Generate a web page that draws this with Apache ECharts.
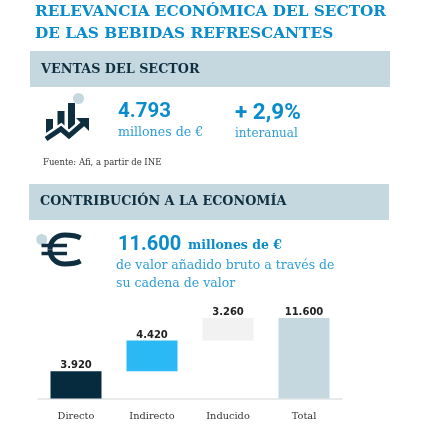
<!DOCTYPE html>
<html><head><meta charset="utf-8">
<style>html,body{margin:0;padding:0;background:#fff}#c{width:435px;height:435px}</style>
<script src="https://cdn.jsdelivr.net/npm/echarts@6/dist/echarts.min.js"></script>
</head><body><div id="c"></div>
<script>
const categories = ['Directo', 'Indirecto', 'Inducido', 'Total'];
const values = [3920, 4420, 3260, 11600];
const offsets = [0, 3920, 8340, 0];
const valueLabels = ['3.920', '4.420', '3.260', '11.600'];
const barColors = ['#062b3f', '#2bb9f5', '#f2f2f2', '#c5d8e0'];

const SERIF = '"DejaVu Serif"';
const blue = '#0a8bcb', lightBlue = '#2f9ed6', dark = '#0f2f40';
function txt(x, y, text, size, color, weight, family) {
  return {type:'text', x, y, style:{text, fontSize:size, fill:color, fontWeight:weight||'normal',
    fontFamily:family||SERIF, textVerticalAlign:'middle', textAlign:'left'}, silent:true};
}
function rect(x,y,width,height,fill){return {type:'rect',shape:{x,y,width,height},style:{fill},silent:true};}
function poly(points, fill) { return {type:'polygon', shape:{points}, style:{fill}, silent:true}; }
function pline(points,w,c){return {type:'polyline',shape:{points},style:{stroke:c,lineWidth:w,fill:'none'},silent:true};}
function line(x1,y1,x2,y2,w,c){return {type:'line',shape:{x1,y1,x2,y2},style:{stroke:c,lineWidth:w},silent:true};}
function curve(x1,y1,cpx1,cpy1,cpx2,cpy2,x2,y2){
  return {type:'bezierCurve',shape:{x1,y1,cpx1,cpy1,cpx2,cpy2,x2,y2},style:{stroke:dark,fill:'none',lineWidth:5},silent:true};
}
const arrowPts = [[46,139],[61,129],[69,136],[85,122]];

const chart = echarts.init(document.getElementById('c'), null, {renderer:'canvas'});
chart.setOption({
  animation:false,
  backgroundColor:'#fff',
  grid:{left:38, width:304, top:318, height:80.5},
  xAxis:{type:'category', data:categories,
    axisLine:{lineStyle:{color:'#e2e4e5', width:1.5}}, axisTick:{show:false},
    axisLabel:{color:'#333', fontFamily:SERIF, fontSize:9.8, margin:12.5}},
  yAxis:{type:'value', min:0, max:11600, show:false, splitLine:{show:false}},
  series:[
    {type:'bar', stack:'w', data:offsets, barWidth:51, silent:true, itemStyle:{color:'transparent'}},
    {type:'bar', stack:'w', barWidth:51, silent:true,
      data:values.map((v,i)=>({value:v, itemStyle:{color:barColors[i]},
        label:{show:true, position:'top', distance:0.5, formatter:valueLabels[i], color:'#222',
          fontFamily:'"DejaVu Sans"', fontWeight:'bold', fontSize:10}}))}
  ],
  graphic:[
    txt(35,12.5,'RELEVANCIA ECONÓMICA DEL SECTOR',15.3,blue,'bold'),
    txt(35,34,'DE LAS BEBIDAS REFRESCANTES',15.3,blue,'bold'),
    rect(30,51,360,36,'#c5d8e0'),
    txt(41,70,'VENTAS DEL SECTOR',12.8,dark,'bold'),
    {type:'circle',shape:{cx:78.5,cy:98.5,r:5.5},style:{fill:'#c5d8e0'},silent:true},
    rect(46,119,7,15,dark),
    rect(57.5,111,7,22,dark),
    rect(68,103,7,28,dark),
    pline(arrowPts,10,'#fff'),
    pline(arrowPts,5,dark),
    poly([[76,118],[89,118],[89,131]],dark),
    txt(118,112,'4.793',20.5,blue,'bold','"Roboto"'),
    txt(235,113.5,'+ 2,9%',22.5,blue,'bold','"Roboto"'),
    txt(118,133,'millones de €',12.6,lightBlue),
    txt(235,134,'interanual',12,lightBlue),
    txt(43,163,'Fuente: Afi, a partir de INE',8.5,'#333'),
    rect(29,184,360,36,'#c5d8e0'),
    txt(40,202,'CONTRIBUCIÓN A LA ECONOMÍA',12.8,dark,'bold'),
    {type:'circle',shape:{cx:41.7,cy:239.5,r:5.5},style:{fill:'#c5d8e0'},silent:true},
    curve(80.5,238,75,235,70,235,65,235),
    curve(65,235,55,235,50,242,50,249.5),
    curve(50,249.5,50,257,55,264,65,264),
    curve(65,264,70,264,75,264,80.5,261),
    line(41.5,245.5,67,245.5,3.5,dark),
    line(41.5,253.5,67,253.5,3.5,dark),
    txt(118,244.5,'11.600',20,blue,'bold','"Roboto"'),
    txt(188,246,'millones de €',12.5,blue,'bold'),
    txt(116,266,'de valor añadido bruto a través de',12.5,lightBlue),
    txt(116,283.5,'su cadena de valor',12.5,lightBlue)
  ]
});
</script></body></html>
